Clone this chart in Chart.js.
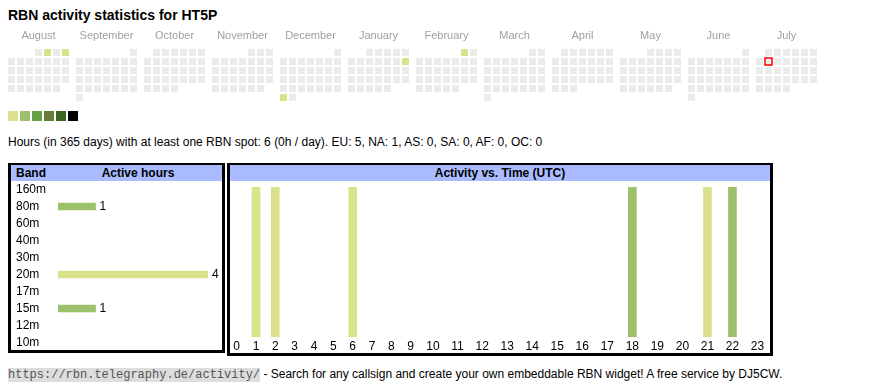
<!DOCTYPE html>
<html>
<head>
<meta charset="utf-8">
<script src="https://cdn.jsdelivr.net/npm/chart.js@4.4.1/dist/chart.umd.min.js"></script>
<style>
  html, body { margin: 0; padding: 0; background: #fff; }
  body { width: 870px; height: 390px; position: relative; overflow: hidden;
         font-family: Arial, "Liberation Sans", sans-serif; color: #000; }
  .abs { position: absolute; white-space: nowrap; }
  #title { left: 8px; top: 7px; font-size: 14px; font-weight: bold; line-height: 16px; }
  #summary { left: 8px; top: 135px; font-size: 12px; line-height: 14px; }
  .box { position: absolute; box-sizing: border-box; border: 3px solid #000; border-top-width: 2px; }
  #bandBox { left: 8px; top: 163px; width: 217px; height: 190px; }
  #timeBox { left: 227px; top: 163px; width: 546px; height: 193px; }
  .hdr { position: absolute; left: 0; right: 0; top: 0; height: 16px; background: #aabbff;
         font-size: 12px; font-weight: bold; line-height: 16px; }
  .hdr span { position: absolute; top: 0; white-space: nowrap; }
  .sw { position: absolute; top: 111px; width: 10px; height: 10px; }
  #footer { left: 8px; top: 367px; font-size: 12px; line-height: 14px; }
  #footer code { font-family: "Liberation Mono", "DejaVu Sans Mono", monospace; font-size: 12px;
                 background: #dddddd; color: #555; }
  canvas { position: absolute; }
</style>
</head>
<body>
<div id="title" class="abs">RBN activity statistics for HT5P</div>

<canvas id="cal" width="870" height="78" style="left:0;top:25px;width:870px;height:78px"></canvas>
<div id="legend"></div>

<div id="summary" class="abs">Hours (in 365 days) with at least one RBN spot: 6 (0h / day). EU: 5, NA: 1, AS: 0, SA: 0, AF: 0, OC: 0</div>

<div id="bandBox" class="box"><div class="hdr"><span style="left:5px">Band</span><span style="left:127px;transform:translateX(-50%)">Active hours</span></div></div>
<div id="timeBox" class="box"><div class="hdr"><span style="left:50%;transform:translateX(-50%)">Activity vs. Time (UTC)</span></div></div>

<canvas id="band" width="204" height="170" style="left:16px;top:181px;width:204px;height:170px"></canvas>
<canvas id="time" width="543" height="173" style="left:227px;top:181px;width:543px;height:173px"></canvas>

<div id="footer" class="abs"><code>https://rbn.telegraphy.de/activity/</code> - Search for any callsign and create your own embeddable RBN widget! A free service by DJ5CW.</div>

<script>
// ---------------- DATA ----------------
const monthNames = ['August','September','October','November','December','January','February','March','April','May','June','July'];
const firstMonth = '2024-08';            // first month shown in the calendar
const activeDays = ['2024-08-02','2024-08-04','2024-12-30','2025-01-12','2025-02-01'];
const activeDayLevels = [1, 1, 1, 1, 1];
const todayDate = '2025-07-08';

const bands = ['160m','80m','60m','40m','30m','20m','17m','15m','12m','10m'];
const bandHours = [0, 1, 0, 0, 0, 4, 0, 1, 0, 0];

const hourLabels = ['0','1','2','3','4','5','6','7','8','9','10','11','12','13','14','15','16','17','18','19','20','21','22','23'];
const hourActive = [0,1,1,0,0,0,1,0,0,0,0,0,0,0,0,0,0,0,1,0,0,1,1,0];
const hourBand   = ['','20m','20m','','','','20m','','','','','','','','','','','','15m','','','20m','80m',''];

// ---------------- STYLES ----------------
const levelColors = ['#ebebeb','#d9e18b','#9dc16a','#68a044','#697b39','#3b6425','#000000'];
const bandColors = { '80m': '#9dc16a', '20m': '#d9e18b', '15m': '#9dc16a' };
const NONE = 'rgba(0,0,0,0)';
const FONT = 'Arial, "Liberation Sans", sans-serif';
Chart.defaults.font.family = FONT;
Chart.defaults.animation = false;
Chart.defaults.events = [];
Chart.defaults.plugins.legend.display = false;
Chart.defaults.plugins.tooltip.enabled = false;

const noPad = s => { s.paddingLeft = 0; s.paddingRight = 0; s.paddingTop = 0; s.paddingBottom = 0; };

// ---------------- CALENDAR ----------------
const CELL = 9;                 // cell pitch in px (1 scale unit)
const BLOCK = 68 / CELL;        // month block pitch in cell units
const cells = [];
const [fy, fm] = firstMonth.split('-').map(Number);
for (let m = 0; m < 12; m++) {
  const y = fy + Math.floor((fm - 1 + m) / 12), mo = (fm - 1 + m) % 12;
  const fw = (new Date(Date.UTC(y, mo, 1)).getUTCDay() + 6) % 7;   // Monday first
  const nd = new Date(Date.UTC(y, mo + 1, 0)).getUTCDate();
  for (let d = 1; d <= nd; d++) {
    const key = y + '-' + String(mo + 1).padStart(2, '0') + '-' + String(d).padStart(2, '0');
    const ai = activeDays.indexOf(key);
    const idx = d - 1 + fw;
    cells.push({ x: m * BLOCK + (idx % 7), y: Math.floor(idx / 7),
                 level: ai >= 0 ? activeDayLevels[ai] : 0, today: key === todayDate });
  }
}
const calXMin = -11.5 / CELL, calYMin = -3.5 / CELL;
new Chart(document.getElementById('cal'), {
  type: 'scatter',
  data: { datasets: [{
    data: cells,
    pointStyle: 'rect',
    pointRadius: 7 / Math.SQRT2,
    backgroundColor: c => levelColors[c.raw.level],
    borderColor: c => c.raw.today ? '#ff0000' : NONE,
    borderWidth: c => c.raw.today ? 1.5 : 0
  }]},
  options: {
    responsive: false,
    layout: { padding: 0, autoPadding: false },
    scales: {
      x: { type: 'linear', position: 'top', min: calXMin, max: calXMin + 870 / CELL, offset: false,
           grid: { display: false, drawTicks: false }, border: { display: false },
           afterBuildTicks: s => { s.ticks = monthNames.map((_, m) => ({ value: m * BLOCK + 3 })); },
           afterFit: s => { s.height = 24; noPad(s); },
           ticks: { autoSkip: false, maxRotation: 0, padding: 6, color: '#a0a0a0', font: { size: 11 },
                    callback: (v, i) => monthNames[i] } },
      y: { type: 'linear', display: false, reverse: true, min: calYMin, max: calYMin + 6 }
    }
  }
});

// legend swatches
const lg = document.getElementById('legend');
levelColors.slice(1).forEach((c, i) => {
  const d = document.createElement('div');
  d.className = 'sw'; d.style.left = (8 + 12 * i) + 'px'; d.style.background = c;
  lg.appendChild(d);
});

// ---------------- BAND CHART ----------------
const valueLabels = {
  id: 'valueLabels',
  afterDatasetsDraw(chart) {
    const ctx = chart.ctx;
    const meta = chart.getDatasetMeta(0);
    ctx.save();
    ctx.font = '12px ' + FONT; ctx.fillStyle = '#000'; ctx.textBaseline = 'middle'; ctx.textAlign = 'left';
    meta.data.forEach((bar, i) => {
      const v = chart.data.datasets[0].data[i];
      if (v > 0) ctx.fillText(String(v), bar.x + 4, bar.y + 0.5);
    });
    ctx.restore();
  }
};
new Chart(document.getElementById('band'), {
  type: 'bar',
  data: { labels: bands, datasets: [{
    data: bandHours,
    backgroundColor: bands.map((b, i) => bandHours[i] > 0 ? (bandColors[b] || NONE) : NONE),
    barThickness: 7, borderWidth: 0
  }]},
  options: {
    responsive: false, indexAxis: 'y',
    layout: { padding: { right: 12 } },
    scales: {
      x: { display: false, min: 0, max: 4 },
      y: { grid: { display: false, drawTicks: false }, border: { display: false },
           afterFit: s => { s.width = 42; noPad(s); },
           ticks: { autoSkip: false, crossAlign: 'far', color: '#000', font: { size: 12 } } }
    }
  },
  plugins: [valueLabels]
});

// ---------------- TIME CHART ----------------
const mctx = document.createElement('canvas').getContext('2d');
mctx.font = '12px ' + FONT;
const colW = hourLabels.map(l => mctx.measureText(l).width + 16);   // table-like column widths
const colC = []; let acc = 0;
colW.forEach(w => { colC.push(acc + w / 2); acc += w; });
new Chart(document.getElementById('time'), {
  type: 'bar',
  data: { datasets: [{
    data: hourActive.map((v, h) => ({ x: colC[h], y: v })),
    backgroundColor: hourBand.map((b, h) => hourActive[h] > 0 ? (bandColors[b] || NONE) : NONE),
    barThickness: 8, borderWidth: 0
  }]},
  options: {
    responsive: false,
    layout: { padding: { top: 6 } },
    scales: {
      x: { type: 'linear', min: 0, max: acc, offset: false,
           grid: { display: false, drawTicks: false }, border: { display: false },
           afterBuildTicks: s => { s.ticks = colC.map(v => ({ value: v })); },
           afterFit: s => { s.height = 17; noPad(s); },
           ticks: { autoSkip: false, maxRotation: 0, padding: 2, color: '#000', font: { size: 12 },
                    callback: (v, i) => hourLabels[i] } },
      y: { display: false, min: 0, max: 1 }
    }
  }
});
</script>
</body>
</html>
